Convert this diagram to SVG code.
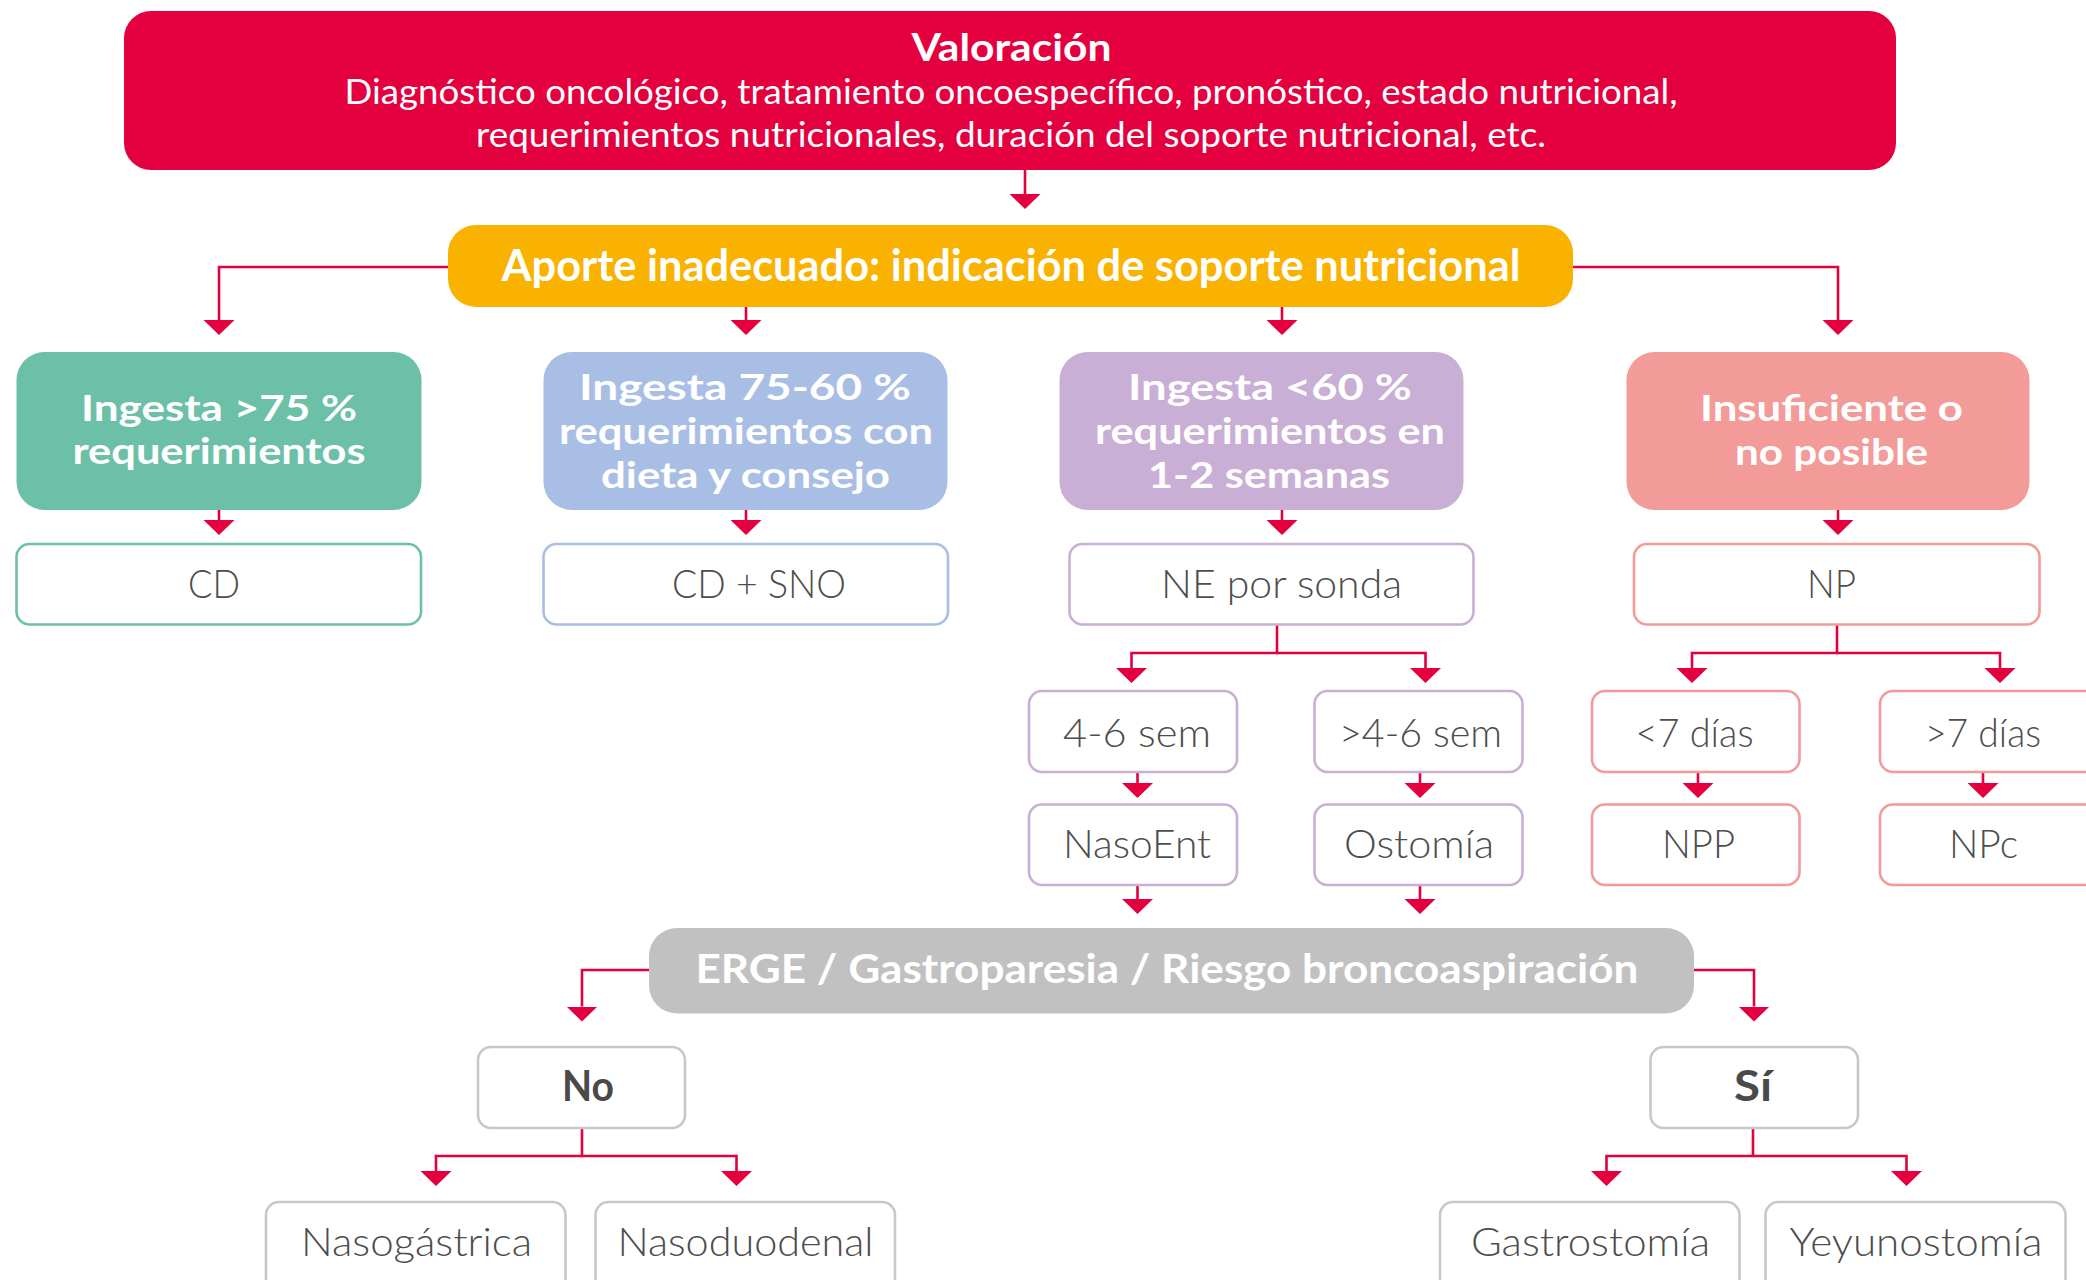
<svg xmlns="http://www.w3.org/2000/svg" width="2086" height="1280" viewBox="0 0 2086 1280">
<style>
.b{font-family:Lato,"Liberation Sans","DejaVu Sans",sans-serif;font-weight:700;fill:#fff;text-anchor:middle}
.m{font-size:36px}
.l{font-family:Lato,"Liberation Sans","DejaVu Sans",sans-serif;font-weight:300;fill:#4d4d4d;text-anchor:middle;font-size:40px}
.d{font-family:Lato,"Liberation Sans","DejaVu Sans",sans-serif;font-weight:700;fill:#4a4a4a;text-anchor:middle;font-size:42px}
.w{fill:#fff;stroke-width:2.6}
.c{fill:none;stroke:#e4003f;stroke-width:2.6;marker-end:url(#ah)}
</style>
<defs>
<marker id="ah" markerUnits="userSpaceOnUse" markerWidth="16" markerHeight="32" viewBox="0 -16 16 32" refX="0" refY="0" orient="auto">
<path d="M0,-15.5 L15,0 L0,15.5 z" fill="#e4003f"/>
</marker>
</defs>
<rect width="2086" height="1280" fill="#fff"/>

<g id="connectors">
<path class="c" d="M1025,170 V194"/>
<path class="c" d="M448,267 H219 V320"/>
<path class="c" d="M746,307 V320"/>
<path class="c" d="M1282,307 V320"/>
<path class="c" d="M1573,267 H1838 V320"/>
<path class="c" d="M219,510 V520"/>
<path class="c" d="M746,510 V520"/>
<path class="c" d="M1282,510 V520"/>
<path class="c" d="M1838,510 V520"/>
<path class="c" d="M1277,624 V653 H1131.5 V668"/>
<path class="c" d="M1277,653 H1425.5 V668"/>
<path class="c" d="M1837,624 V653 H1692 V668"/>
<path class="c" d="M1837,653 H2000 V668"/>
<path class="c" d="M1137.5,772 V783"/>
<path class="c" d="M1420,772 V783"/>
<path class="c" d="M1698,772 V783"/>
<path class="c" d="M1983,772 V783"/>
<path class="c" d="M1137.5,885 V899"/>
<path class="c" d="M1420,885 V899"/>
<path class="c" d="M649,970 H582 V1006.5"/>
<path class="c" d="M1694,970 H1754 V1006.5"/>
<path class="c" d="M582,1128 V1156 H436 V1171"/>
<path class="c" d="M582,1156 H736.5 V1171"/>
<path class="c" d="M1753,1128 V1156 H1606.5 V1171"/>
<path class="c" d="M1753,1156 H1906.5 V1171"/>
</g>

<g id="valoracion">
<rect x="124" y="11" width="1772" height="159" rx="27" fill="#e4003f"/>
<text class="b" x="1011.5" y="61" font-size="38" textLength="200" lengthAdjust="spacingAndGlyphs">Valoración</text>
<text class="b" x="1011" y="104" font-size="34" style="font-weight:400" textLength="1333" lengthAdjust="spacingAndGlyphs">Diagnóstico oncológico, tratamiento oncoespecífico, pronóstico, estado nutricional,</text>
<text class="b" x="1011" y="147" font-size="34" style="font-weight:400" textLength="1070" lengthAdjust="spacingAndGlyphs">requerimientos nutricionales, duración del soporte nutricional, etc.</text>
</g>

<g id="aporte">
<rect x="448" y="225" width="1125" height="82" rx="28" fill="#f9b200"/>
<text class="b" x="1011" y="281" font-size="43" textLength="1019" lengthAdjust="spacingAndGlyphs">Aporte inadecuado: indicación de soporte nutricional</text>
</g>

<g id="ingesta75">
<rect x="16.5" y="352" width="405" height="158" rx="28" fill="#6dc0a8"/>
<text class="b m" x="219" y="421" textLength="276" lengthAdjust="spacingAndGlyphs">Ingesta &gt;75 %</text>
<text class="b m" x="219" y="464" textLength="293" lengthAdjust="spacingAndGlyphs">requerimientos</text>
</g>

<g id="ingesta7560">
<rect x="543.5" y="352" width="404" height="158" rx="28" fill="#a9bee4"/>
<text class="b m" x="745" y="400" textLength="332" lengthAdjust="spacingAndGlyphs">Ingesta 75-60 %</text>
<text class="b m" x="746" y="444" textLength="374" lengthAdjust="spacingAndGlyphs">requerimientos con</text>
<text class="b m" x="745.5" y="488" textLength="289" lengthAdjust="spacingAndGlyphs">dieta y consejo</text>
</g>

<g id="ingesta60">
<rect x="1059.5" y="352" width="404" height="158" rx="28" fill="#c9afd5"/>
<text class="b m" x="1270" y="400" textLength="284" lengthAdjust="spacingAndGlyphs">Ingesta &lt;60 %</text>
<text class="b m" x="1270" y="444" textLength="350" lengthAdjust="spacingAndGlyphs">requerimientos en</text>
<text class="b m" x="1269" y="488" textLength="242" lengthAdjust="spacingAndGlyphs">1-2 semanas</text>
</g>

<g id="insuficiente">
<rect x="1626.5" y="352" width="403" height="158" rx="28" fill="#f29b98"/>
<text class="b m" x="1831.5" y="421" textLength="263" lengthAdjust="spacingAndGlyphs">Insuficiente o</text>
<text class="b m" x="1831.5" y="465" textLength="193" lengthAdjust="spacingAndGlyphs">no posible</text>
</g>

<g id="cd">
<rect class="w" x="16.5" y="544" width="404.5" height="80.5" rx="13" stroke="#6dc0a8"/>
<text class="l" x="214" y="598" textLength="52" lengthAdjust="spacingAndGlyphs">CD</text>
</g>
<g id="cdsno">
<rect class="w" x="543.5" y="544" width="404.5" height="80.5" rx="13" stroke="#a9bee4"/>
<text class="l" x="759" y="598" textLength="174" lengthAdjust="spacingAndGlyphs">CD + SNO</text>
</g>
<g id="nesonda">
<rect class="w" x="1069.5" y="544" width="404" height="80.5" rx="13" stroke="#c9afd5"/>
<text class="l" x="1281.5" y="598" textLength="241" lengthAdjust="spacingAndGlyphs">NE por sonda</text>
</g>
<g id="np">
<rect class="w" x="1634" y="544" width="405.5" height="80.5" rx="13" stroke="#f29b98"/>
<text class="l" x="1831.5" y="598" textLength="49" lengthAdjust="spacingAndGlyphs">NP</text>
</g>

<g id="sem46">
<rect class="w" x="1029" y="691" width="208" height="81" rx="13" stroke="#c9afd5"/>
<text class="l" x="1137" y="747" textLength="148" lengthAdjust="spacingAndGlyphs">4-6 sem</text>
</g>
<g id="sem46mas">
<rect class="w" x="1314.5" y="691" width="208" height="81" rx="13" stroke="#c9afd5"/>
<text class="l" x="1420.5" y="747" textLength="163" lengthAdjust="spacingAndGlyphs">&gt;4-6 sem</text>
</g>
<g id="dias7menos">
<rect class="w" x="1592" y="691" width="207.5" height="81" rx="13" stroke="#f29b98"/>
<text class="l" x="1694.5" y="747" textLength="118" lengthAdjust="spacingAndGlyphs">&lt;7 días</text>
</g>
<g id="dias7mas">
<rect class="w" x="1880" y="691" width="220" height="81" rx="13" stroke="#f29b98"/>
<text class="l" x="1983" y="747" textLength="116" lengthAdjust="spacingAndGlyphs">&gt;7 días</text>
</g>

<g id="nasoent">
<rect class="w" x="1029" y="804.5" width="208" height="80.5" rx="13" stroke="#c9afd5"/>
<text class="l" x="1137" y="858" textLength="148" lengthAdjust="spacingAndGlyphs">NasoEnt</text>
</g>
<g id="ostomia">
<rect class="w" x="1314.5" y="804.5" width="208" height="80.5" rx="13" stroke="#c9afd5"/>
<text class="l" x="1419" y="858" textLength="150" lengthAdjust="spacingAndGlyphs">Ostomía</text>
</g>
<g id="npp">
<rect class="w" x="1592" y="804.5" width="207.5" height="80.5" rx="13" stroke="#f29b98"/>
<text class="l" x="1698.5" y="858" textLength="73" lengthAdjust="spacingAndGlyphs">NPP</text>
</g>
<g id="npc">
<rect class="w" x="1880" y="804.5" width="220" height="80.5" rx="13" stroke="#f29b98"/>
<text class="l" x="1983.5" y="858" textLength="69" lengthAdjust="spacingAndGlyphs">NPc</text>
</g>

<g id="erge">
<rect x="649" y="928" width="1045" height="85.5" rx="28" fill="#c2c1c1"/>
<text class="b" x="1167" y="983" font-size="40" textLength="943" lengthAdjust="spacingAndGlyphs">ERGE / Gastroparesia / Riesgo broncoaspiración</text>
</g>

<g id="no">
<rect class="w" x="478" y="1047" width="207" height="81" rx="13" stroke="#c8c8c8"/>
<text class="d" x="588" y="1101" textLength="52" lengthAdjust="spacingAndGlyphs">No</text>
</g>
<g id="si">
<rect class="w" x="1650.5" y="1047" width="207.5" height="81" rx="13" stroke="#c8c8c8"/>
<text class="d" x="1753" y="1101" textLength="38" lengthAdjust="spacingAndGlyphs">Sí</text>
</g>

<g id="nasogastrica">
<rect class="w" x="266" y="1202" width="299.5" height="100" rx="13" stroke="#c8c8c8"/>
<text class="l" x="416.5" y="1256" textLength="231" lengthAdjust="spacingAndGlyphs">Nasogástrica</text>
</g>
<g id="nasoduodenal">
<rect class="w" x="595.5" y="1202" width="299.5" height="100" rx="13" stroke="#c8c8c8"/>
<text class="l" x="745.5" y="1256" textLength="256" lengthAdjust="spacingAndGlyphs">Nasoduodenal</text>
</g>
<g id="gastrostomia">
<rect class="w" x="1440" y="1202" width="299.5" height="100" rx="13" stroke="#c8c8c8"/>
<text class="l" x="1590.5" y="1256" textLength="239" lengthAdjust="spacingAndGlyphs">Gastrostomía</text>
</g>
<g id="yeyunostomia">
<rect class="w" x="1765.5" y="1202" width="300" height="100" rx="13" stroke="#c8c8c8"/>
<text class="l" x="1916" y="1256" textLength="253" lengthAdjust="spacingAndGlyphs">Yeyunostomía</text>
</g>
</svg>
